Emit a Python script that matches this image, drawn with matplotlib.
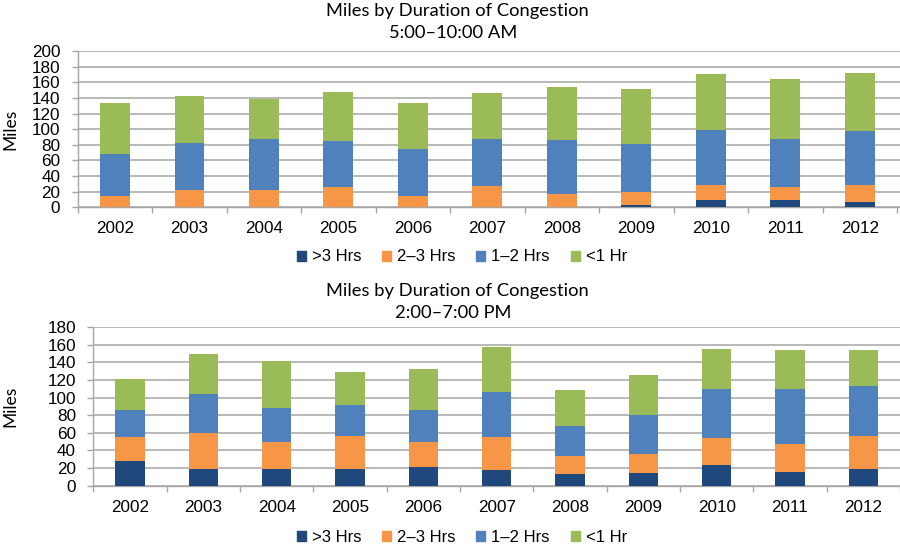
import matplotlib
matplotlib.use("Agg")
from matplotlib import pyplot as plt
from matplotlib.patches import Patch
import numpy as np

years = ["2002", "2003", "2004", "2005", "2006", "2007", "2008", "2009", "2010", "2011", "2012"]
labels = [">3 Hrs", "2\u20133 Hrs", "1\u20132 Hrs", "<1 Hr"]
colors = ["#1F497D", "#F79646", "#4F81BD", "#9BBB59"]

# AM peak 5:00-10:00
am_over3 = [0, 0, 0, 0, 0, 0, 0, 2.5, 9, 9, 7]
am_2to3 = [15, 22.5, 22, 26.5, 14, 27.5, 17.5, 17, 19, 17, 21]
am_1to2 = [53, 60, 66, 58, 61, 60, 68, 61.5, 71, 62, 70]
am_under1 = [65, 60, 51, 63, 59, 59, 68, 70, 71, 76, 74]

# PM peak 2:00-7:00
pm_over3 = [27.5, 19.5, 19, 19.5, 21, 18, 13.5, 14.5, 24, 15, 19.5]
pm_2to3 = [27.5, 40, 30, 36.5, 28, 37, 20.5, 21, 30.5, 32, 37]
pm_1to2 = [31, 44, 39.5, 35.5, 36.5, 51.5, 34, 45, 55, 62.5, 57]
pm_under1 = [35.5, 46, 53, 37, 47, 51, 40.5, 44.5, 45.5, 44.5, 40]

grid_col = "#A6A6A6"
tick_font = "Liberation Sans"
title_font = "Lato"

fig = plt.figure(figsize=(9, 5.6), dpi=100)


def draw(ax, series, ymax, title2, title_y, legend_y):
    x = np.arange(len(years))
    bottom = np.zeros(len(years))
    for vals, col in zip(series, colors):
        ax.bar(x, vals, width=0.4, bottom=bottom, color=col, zorder=3)
        bottom += np.array(vals)
    ax.set_xlim(-0.5, 10.5)
    ax.set_ylim(0, ymax)
    ax.set_yticks(np.arange(0, ymax + 1, 20))
    ax.grid(axis="y", color=grid_col, linewidth=1.1, zorder=0)
    for s in ["top", "right"]:
        ax.spines[s].set_visible(False)
    for s in ["left", "bottom"]:
        ax.spines[s].set_color(grid_col)
        ax.spines[s].set_linewidth(1.0)
    ax.set_xticks(x)
    ax.set_xticklabels(years, fontsize=12.3, fontfamily=tick_font)
    ax.set_xticks(np.arange(-0.5, 11, 1), minor=True)
    ax.tick_params(axis="x", which="major", length=0, pad=10)
    ax.tick_params(axis="x", which="minor", length=4, color=grid_col, width=1)
    ax.tick_params(axis="y", length=4.5, color=grid_col, width=1, pad=8)
    for t in ax.get_yticklabels():
        t.set_fontsize(12.3)
        t.set_fontfamily(tick_font)
    pos = ax.get_position()
    fig.text(10 / 900, pos.y0 + pos.height / 2, "Miles", rotation=90,
             ha="center", va="center", fontsize=12.5, fontfamily=title_font)
    fig.text(0.508, 1 - title_y / 560, "Miles by Duration of Congestion",
             ha="center", va="center", fontsize=13.2, fontfamily=title_font)
    fig.text(0.503, 1 - (title_y + 22) / 560, title2,
             ha="center", va="center", fontsize=13.2, fontfamily=title_font)
    handles = [Patch(color=c) for c in colors]
    fig.legend(handles, labels, loc="center", bbox_to_anchor=(0.513, 1 - legend_y / 560),
               ncol=4, frameon=False, prop={"family": tick_font, "size": 12},
               handlelength=0.55, handleheight=0.55, handletextpad=0.35,
               columnspacing=1.25)


ax1 = fig.add_axes([77.7 / 900, 352.7 / 560, (900 - 77.7) / 900, 156.3 / 560])
draw(ax1, [am_over3, am_2to3, am_1to2, am_under1], 200, "5:00\u201310:00 AM", 11, 257)
ax1.set_xlim(-0.5, 10.54)

ax2 = fig.add_axes([93.3 / 900, 74.3 / 560, (900 - 93.3) / 900, 158.7 / 560])
draw(ax2, [pm_over3, pm_2to3, pm_1to2, pm_under1], 180, "2:00\u20137:00 PM", 291, 537)

fig.savefig("out.png", dpi=100, facecolor="white")
